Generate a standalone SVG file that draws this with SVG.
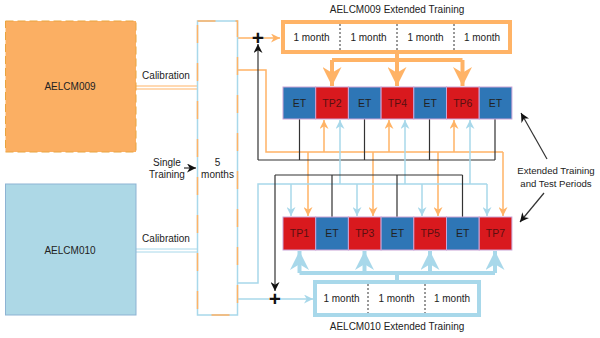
<svg xmlns="http://www.w3.org/2000/svg" width="600" height="338" viewBox="0 0 600 338">
<defs>
<style>
text{font-family:"Liberation Sans",Arial,sans-serif;fill:#222;}
.lbl{font-size:10px;text-anchor:middle;}
.big{font-size:10px;text-anchor:middle;}
.note{font-size:9.6px;text-anchor:middle;}
.box{font-size:10.5px;text-anchor:middle;}
.et{fill:#2E76B6;stroke:#C9A3D6;stroke-width:1;}
.tp{fill:#D9191E;stroke:#C9A3D6;stroke-width:1;}
.tpt{fill:#5a1010;}
.o{stroke:#FFB366;stroke-width:1.5;fill:none;}
.b{stroke:#A8D8EA;stroke-width:1.5;fill:none;}
.k{stroke:#333;stroke-width:1.2;fill:none;}
.ot{stroke:#FFB366;stroke-width:4;fill:none;}
.bt{stroke:#A8D8EA;stroke-width:4;fill:none;}
.div{stroke:#333;stroke-width:1;stroke-dasharray:2,2;}
.plus{font-size:21px;font-weight:bold;text-anchor:middle;fill:#111;}
</style>
<marker id="ao" viewBox="0 0 10 10" refX="10" refY="5" markerWidth="9" markerHeight="9" markerUnits="userSpaceOnUse" orient="auto"><path d="M0,0 L10,5 L0,10 L3,5 z" fill="#FFB366"/></marker>
<marker id="ab" viewBox="0 0 10 10" refX="10" refY="5" markerWidth="9" markerHeight="9" markerUnits="userSpaceOnUse" orient="auto"><path d="M0,0 L10,5 L0,10 L3,5 z" fill="#A8D8EA"/></marker>
<marker id="ak" viewBox="0 0 10 10" refX="10" refY="5" markerWidth="9" markerHeight="9" markerUnits="userSpaceOnUse" orient="auto"><path d="M0,0 L10,5 L0,10 L3,5 z" fill="#111"/></marker>
<marker id="aot" viewBox="0 0 10 10" refX="10" refY="5" markerWidth="19" markerHeight="19" markerUnits="userSpaceOnUse" orient="auto"><path d="M0,0 L10,5 L0,10 L3,5 z" fill="#FFB366"/></marker>
<marker id="abt" viewBox="0 0 10 10" refX="10" refY="5" markerWidth="19" markerHeight="19" markerUnits="userSpaceOnUse" orient="auto"><path d="M0,0 L10,5 L0,10 L3,5 z" fill="#A8D8EA"/></marker>
</defs>

<g id="connectors">
  <!-- calibration double lines -->
  <line x1="136" y1="86" x2="197" y2="86" stroke="#FFB366" stroke-width="1"/>
  <line x1="136" y1="89" x2="197" y2="89" stroke="#FFB366" stroke-width="1"/>
  <line x1="136" y1="249" x2="197" y2="249" stroke="#A8D8EA" stroke-width="1"/>
  <line x1="136" y1="252" x2="197" y2="252" stroke="#A8D8EA" stroke-width="1"/>
  <!-- single training arrow -->
  <line x1="184" y1="168" x2="196" y2="168" class="k" marker-end="url(#ak)"/>

  <!-- orange network top -->
  <path class="o" d="M238,38 L253,38"/>
  <path class="o" d="M263,38 L280,38" marker-end="url(#ao)"/>
  <path class="o" d="M238,70 L266,70 L266,152 L503,152"/>
  <path class="o" d="M324,152 L324,120" marker-end="url(#ao)"/>
  <path class="o" d="M389,152 L389,120" marker-end="url(#ao)"/>
  <path class="o" d="M454,152 L454,120" marker-end="url(#ao)"/>
  <path class="o" d="M308,152 L308,216" marker-end="url(#ao)"/>
  <path class="o" d="M373,152 L373,216" marker-end="url(#ao)"/>
  <path class="o" d="M438,152 L438,216" marker-end="url(#ao)"/>
  <path class="o" d="M503,152 L503,216" marker-end="url(#ao)"/>

  <!-- black network top -->
  <path class="k" d="M299.5,119 L299.5,160 M364.5,119 L364.5,160 M429.5,119 L429.5,160 M495,119 L495,160 M495,160 L258,160"/>
  <path class="k" d="M258,160 L258,44" marker-end="url(#ak)"/>

  <!-- blue network -->
  <path class="b" d="M238,283 L258,283 L258,184 L487,184"/>
  <path class="b" d="M340,184 L340,120" marker-end="url(#ab)"/>
  <path class="b" d="M405,184 L405,120" marker-end="url(#ab)"/>
  <path class="b" d="M470,184 L470,120" marker-end="url(#ab)"/>
  <path class="b" d="M291,184 L291,216" marker-end="url(#ab)"/>
  <path class="b" d="M357,184 L357,216" marker-end="url(#ab)"/>
  <path class="b" d="M422,184 L422,216" marker-end="url(#ab)"/>
  <path class="b" d="M487,184 L487,216" marker-end="url(#ab)"/>
  <path class="b" d="M238,299 L269,299"/>
  <path class="b" d="M281,299 L313,299" marker-end="url(#ab)"/>

  <!-- black network bottom -->
  <path class="k" d="M332,217 L332,175 M397,217 L397,175 M462.5,217 L462.5,175 M462.5,175 L275,175"/>
  <path class="k" d="M275,175 L275,291" marker-end="url(#ak)"/>

  <!-- thick orange -->
  <path class="ot" d="M397,53 L397,60 M332,60 L462.5,60"/>
  <path class="ot" d="M332,60 L332,86" marker-end="url(#aot)"/>
  <path class="ot" d="M397,60 L397,86" marker-end="url(#aot)"/>
  <path class="ot" d="M462.5,60 L462.5,86" marker-end="url(#aot)"/>

  <!-- thick blue -->
  <path class="bt" d="M397,281 L397,273 M299.5,273 L495,273"/>
  <path class="bt" d="M299.5,273 L299.5,251" marker-end="url(#abt)"/>
  <path class="bt" d="M364.5,273 L364.5,251" marker-end="url(#abt)"/>
  <path class="bt" d="M430,273 L430,251" marker-end="url(#abt)"/>
  <path class="bt" d="M495,273 L495,251" marker-end="url(#abt)"/>

  <!-- annotation arrows -->
  <line x1="547" y1="159" x2="521" y2="113" class="k" marker-end="url(#ak)"/>
  <line x1="544" y1="193" x2="520" y2="222" class="k" marker-end="url(#ak)"/>
</g>

<text class="plus" x="258" y="45">+</text>
<text class="plus" x="275" y="306">+</text>

<g id="aelcm009">
  <rect x="5.5" y="21" width="130.5" height="131" fill="#FBAF63" stroke="#E9A43E" stroke-width="1" stroke-dasharray="8,4"/>
  <text class="big" x="70" y="90">AELCM009</text>
</g>
<g id="aelcm010">
  <rect x="5.5" y="184" width="130.5" height="131" fill="#ADD8E6" stroke="#8DB3D3" stroke-width="1"/>
  <text class="big" x="70" y="254">AELCM010</text>
</g>
<text class="lbl" x="166" y="79">Calibration</text>
<text class="lbl" x="166" y="242">Calibration</text>
<text class="lbl" x="167" y="166">Single</text>
<text class="lbl" x="167" y="178">Training</text>

<g id="single-training">
  <rect x="197.5" y="21" width="40" height="294" fill="#fff" stroke="#A8D8EA" stroke-width="1.5"/>
  <rect x="197.5" y="21" width="40" height="294" fill="none" stroke="#FFB366" stroke-width="1.5" stroke-dasharray="18,20"/>
  <text class="lbl" x="217.5" y="166">5</text>
  <text class="lbl" x="217.5" y="178">months</text>
</g>

<g id="ext009">
  <text class="big" x="397" y="13">AELCM009 Extended Training</text>
  <rect x="283" y="22" width="227" height="30" fill="#fff" stroke="#FFB366" stroke-width="4"/>
  <line class="div" x1="340" y1="24" x2="340" y2="50"/>
  <line class="div" x1="397" y1="24" x2="397" y2="50"/>
  <line class="div" x1="454" y1="24" x2="454" y2="50"/>
  <text class="lbl" x="311.5" y="41">1 month</text>
  <text class="lbl" x="368.5" y="41">1 month</text>
  <text class="lbl" x="425.5" y="41">1 month</text>
  <text class="lbl" x="482" y="41">1 month</text>
</g>

<g id="row009">
  <rect class="et" x="283" y="87" width="32.7" height="32"/>
  <rect class="tp" x="315.7" y="87" width="32.7" height="32"/>
  <rect class="et" x="348.4" y="87" width="32.7" height="32"/>
  <rect class="tp" x="381.1" y="87" width="32.7" height="32"/>
  <rect class="et" x="413.8" y="87" width="32.7" height="32"/>
  <rect class="tp" x="446.5" y="87" width="32.7" height="32"/>
  <rect class="et" x="479.2" y="87" width="32.7" height="32"/>
  <text class="box" x="299.4" y="107">ET</text>
  <text class="box tpt" x="332" y="107">TP2</text>
  <text class="box" x="364.8" y="107">ET</text>
  <text class="box tpt" x="397.5" y="107">TP4</text>
  <text class="box" x="430.2" y="107">ET</text>
  <text class="box tpt" x="462.8" y="107">TP6</text>
  <text class="box" x="495.5" y="107">ET</text>
</g>

<g id="row010">
  <rect class="tp" x="283" y="217" width="32.7" height="33"/>
  <rect class="et" x="315.7" y="217" width="32.7" height="33"/>
  <rect class="tp" x="348.4" y="217" width="32.7" height="33"/>
  <rect class="et" x="381.1" y="217" width="32.7" height="33"/>
  <rect class="tp" x="413.8" y="217" width="32.7" height="33"/>
  <rect class="et" x="446.5" y="217" width="32.7" height="33"/>
  <rect class="tp" x="479.2" y="217" width="32.7" height="33"/>
  <text class="box tpt" x="299.4" y="237">TP1</text>
  <text class="box" x="332" y="237">ET</text>
  <text class="box tpt" x="364.8" y="237">TP3</text>
  <text class="box" x="397.5" y="237">ET</text>
  <text class="box tpt" x="430.2" y="237">TP5</text>
  <text class="box" x="462.8" y="237">ET</text>
  <text class="box tpt" x="495.5" y="237">TP7</text>
</g>

<g id="ext010">
  <rect x="315" y="282" width="164" height="33" fill="#fff" stroke="#A8D8EA" stroke-width="4"/>
  <line class="div" x1="368" y1="284" x2="368" y2="313"/>
  <line class="div" x1="425" y1="284" x2="425" y2="313"/>
  <text class="lbl" x="341.5" y="302">1 month</text>
  <text class="lbl" x="396.5" y="302">1 month</text>
  <text class="lbl" x="452" y="302">1 month</text>
  <text class="big" x="397" y="330">AELCM010 Extended Training</text>
</g>

<g id="note">
  <text class="note" x="556" y="174">Extended Training</text>
  <text class="note" x="556" y="187">and Test Periods</text>
</g>
</svg>
